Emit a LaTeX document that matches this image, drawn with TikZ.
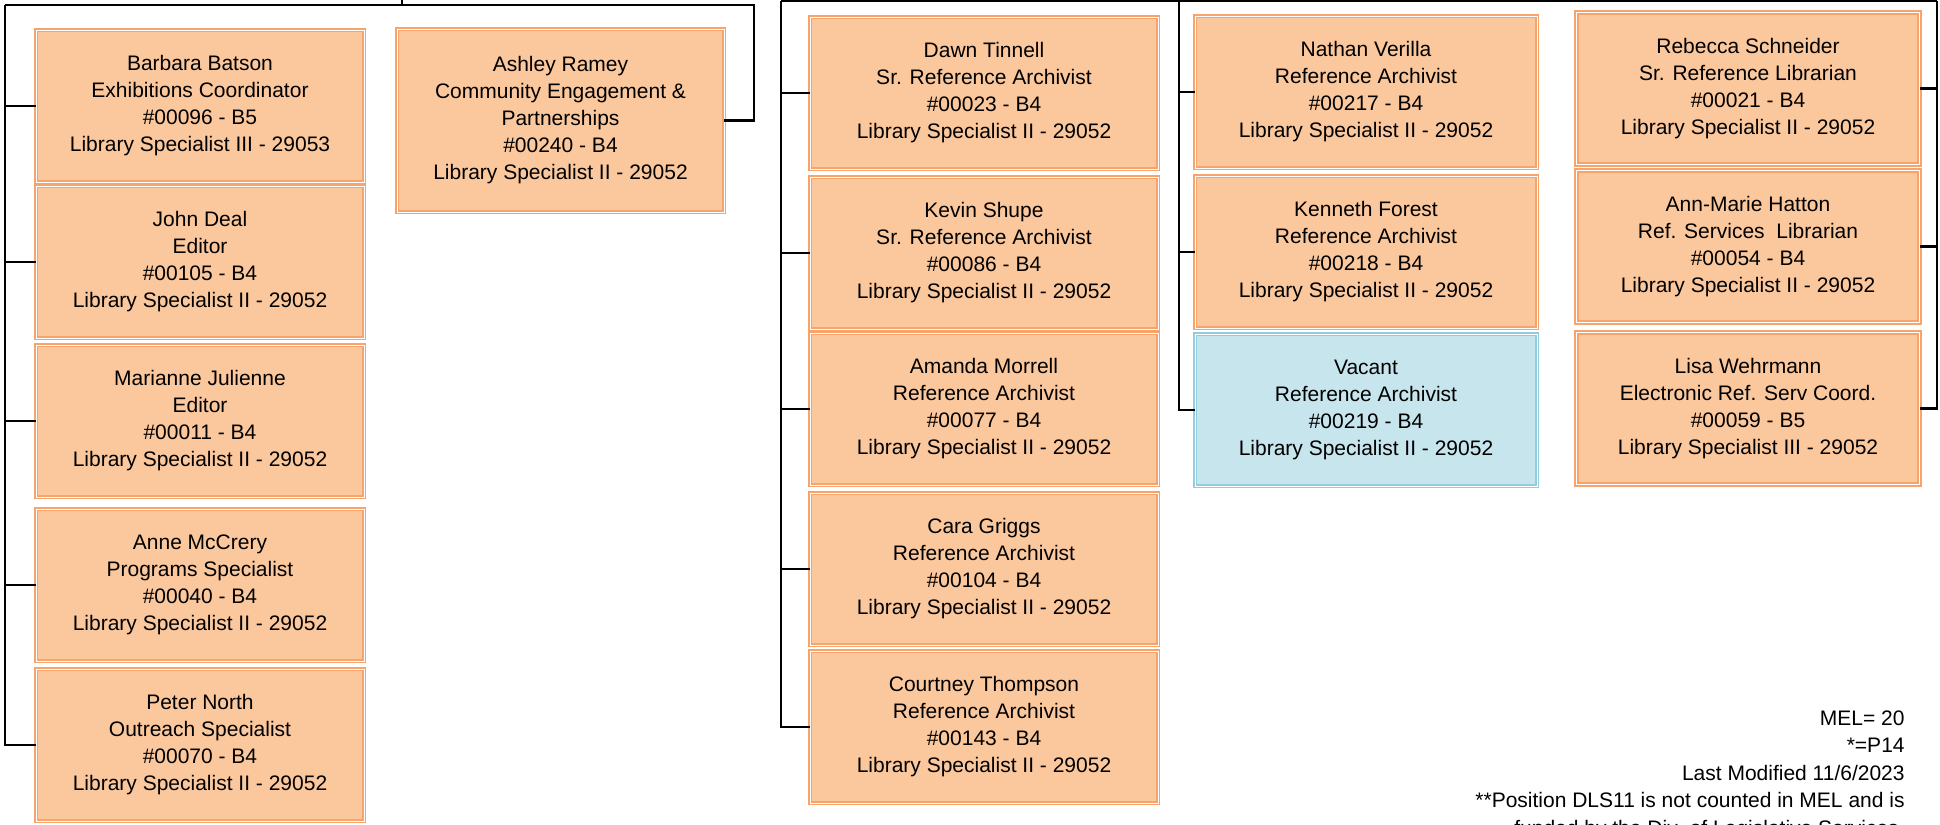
\documentclass[tikz,border=0pt]{standalone}
\usepackage{fontspec}
\setmainfont{Liberation Sans}
\usetikzlibrary{positioning}
\definecolor{staffFill}{HTML}{FBC89E}
\definecolor{staffLine}{HTML}{F6A46C}
\definecolor{vacFill}{HTML}{C7E5ED}
\definecolor{vacLine}{HTML}{93CDDD}
\tikzset{
  staff/.style={rectangle, draw=staffLine, fill=staffFill, line width=0.85pt,
    double=white, double distance=0.5pt, outer sep=0pt, inner sep=2pt,
    align=center, font=\fontsize{10.5pt}{13.5pt}\selectfont, minimum height=76pt},
  vacant/.style={staff, draw=vacLine, fill=vacFill},
  colA/.style={staff, minimum width=164pt},
  colB/.style={staff, minimum width=174pt},
  colC/.style={staff, minimum width=171pt},
  colD/.style={staff, minimum width=171.5pt},
  link/.style={draw=black, line width=1.1pt},
  elbow/.style={to path={|- (\tikztotarget)}}
}

\begin{document}
\begin{tikzpicture}[x=0.5pt, y=-0.5pt]
  \useasboundingbox (0,0) rectangle (1940,825);
  % left group
  \node[colA] (batson) at (200,106) {Barbara Batson\\Exhibitions Coordinator\\\#00096 - B5\\Library Specialist III - 29053};
  \node[colA, below=2pt of batson] (deal) {John Deal\\Editor\\\#00105 - B4\\Library Specialist II - 29052};
  \node[colA, below=3.5pt of deal] (julienne) {Marianne Julienne\\Editor\\\#00011 - B4\\Library Specialist II - 29052};
  \node[colA, below=6pt of julienne] (mccrery) {Anne McCrery\\Programs Specialist\\\#00040 - B4\\Library Specialist II - 29052};
  \node[colA, below=4pt of mccrery] (north) {Peter North\\Outreach Specialist\\\#00070 - B4\\Library Specialist II - 29052};
  \node[staff, minimum width=163.5pt, minimum height=91.5pt] (ramey) at (560.5,120.5) {Ashley Ramey\\Community Engagement \&\\Partnerships\\\#00240 - B4\\Library Specialist II - 29052};

  % reference group
  \node[colB] (tinnell) at (984,93) {Dawn Tinnell\\Sr. Reference Archivist\\\#00023 - B4\\Library Specialist II - 29052};
  \node[colB, below=4pt of tinnell] (shupe) {Kevin Shupe\\Sr. Reference Archivist\\\#00086 - B4\\Library Specialist II - 29052};
  \node[colB, below=2pt of shupe] (morrell) {Amanda Morrell\\Reference Archivist\\\#00077 - B4\\Library Specialist II - 29052};
  \node[colB, below=4pt of morrell] (griggs) {Cara Griggs\\Reference Archivist\\\#00104 - B4\\Library Specialist II - 29052};
  \node[colB, below=3pt of griggs] (thompson) {Courtney Thompson\\Reference Archivist\\\#00143 - B4\\Library Specialist II - 29052};

  \node[colC] (verilla) at (1366,92) {Nathan Verilla\\Reference Archivist\\\#00217 - B4\\Library Specialist II - 29052};
  \node[colC, below=4pt of verilla] (forest) {Kenneth Forest\\Reference Archivist\\\#00218 - B4\\Library Specialist II - 29052};
  \node[colC, vacant, below=3pt of forest] (vacant) {Vacant\\Reference Archivist\\\#00219 - B4\\Library Specialist II - 29052};

  \node[colD] (schneider) at (1748,88.5) {Rebecca Schneider\\Sr. Reference Librarian\\\#00021 - B4\\Library Specialist II - 29052};
  \node[colD, below=3pt of schneider] (hatton) {Ann-Marie Hatton\\Ref. Services\ \ Librarian\\\#00054 - B4\\Library Specialist II - 29052};
  \node[colD, below=5pt of hatton] (wehrmann) {Lisa Wehrmann\\Electronic Ref. Serv Coord.\\\#00059 - B5\\Library Specialist III - 29052};

  % notes
  \node[anchor=north east, inner sep=0pt, align=right, font=\fontsize{10.5pt}{13.75pt}\selectfont] (notes) at (1905,710)
    {MEL= 20\\*=P14\\Last Modified 11/6/2023\\**Position DLS11 is not counted in MEL and is\\funded by the Div. of Legislative Services.};

  % connectors
  \coordinate (bossL) at (402,-10);
  \coordinate (busA) at (5,5);
  \coordinate (busB) at (754,5);
  \coordinate (busC) at (781,1);
  \coordinate (busD) at (1179,1);
  \coordinate (busE) at (1937,1);
  \draw[link] (bossL) |- (busA);
  \draw[link] (bossL) |- (busB) |- (ramey.east);
  \draw[link] (busC) -- (busE);
  \path[link]
    (busA) edge[elbow] (batson.west)
    (busA) edge[elbow] (deal.west)
    (busA) edge[elbow] (julienne.west)
    (busA) edge[elbow] (mccrery.west)
    (busA) edge[elbow] (north.west);
  \path[link]
    (busC) edge[elbow] (tinnell.west)
    (busC) edge[elbow] (shupe.west)
    (busC) edge[elbow] (morrell.west)
    (busC) edge[elbow] (griggs.west)
    (busC) edge[elbow] (thompson.west)
    (busD) edge[elbow] (verilla.west)
    (busD) edge[elbow] (forest.west)
    (busD) edge[elbow] (vacant.west)
    (busE) edge[elbow] (schneider.east)
    (busE) edge[elbow] (hatton.east)
    (busE) edge[elbow] (wehrmann.east);
\end{tikzpicture}
\end{document}
